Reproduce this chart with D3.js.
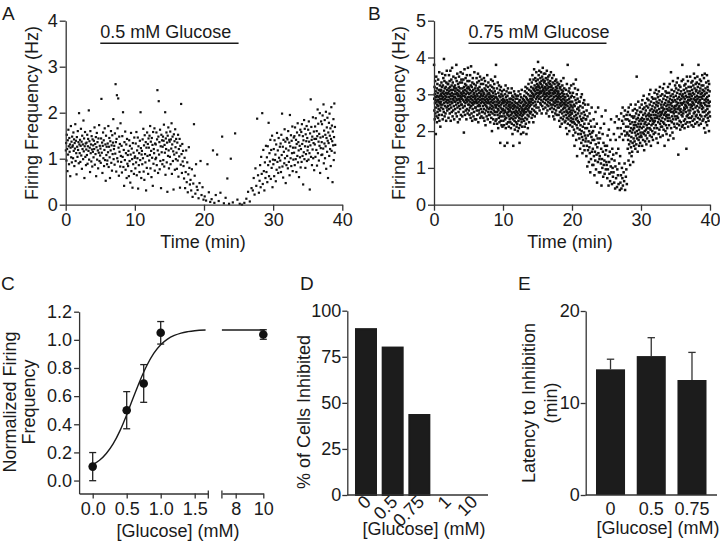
<!DOCTYPE html>
<html><head><meta charset="utf-8"><title>Glucose firing</title>
<script src="https://cdn.jsdelivr.net/npm/d3@7/dist/d3.min.js"></script>
<style>
html,body{margin:0;padding:0;background:#fff;}
svg{display:block;}
</style></head><body>
<svg id="fig" width="720" height="555"></svg>
<script>
// ---------------- DATA ----------------
// Panel A: firing-frequency samples per minute, in hundredths of Hz
const A_UNIT = 0.01;
const aMinutes = [
"118 134 96 152 121 73 140 109 163 127 88 145 115 131 62 124 171 103 137 92 148 126",
"129 101 157 117 142 84 134 122 175 95 139 112 66 147 126 104 160 119 136 90 199 131",
"112 141 93 128 165 107 137 78 150 121 131 99 183 116 144 58 127 158 104 133 86 120",
"135 108 152 89 127 143 117 205 98 138 124 71 160 112 131 94 149 120 83 142 115 129",
"103 139 121 168 87 132 110 147 62 125 156 98 136 118 79 144 113 173 95 128 107",
"122 91 144 230 113 135 69 128 157 101 140 84 119 166 97 131 52 150 108 126 88",
"96 133 114 171 82 126 145 103 58 138 118 160 91 129 74 151 110 135 186 99 121",
"128 87 155 111 262 136 72 143 238 101 166 94 231 124 63 148 115 132 83 177 106",
"93 128 70 149 104 201 82 119 41 136 97 159 76 112 131 58 143 89 108",
"84 117 62 140 95 128 48 109 156 73 122 99 37 134 88 113 67 146 102",
"105 79 133 92 158 64 118 101 146 35 127 86 112 71 139 97 201 123 58 109",
"117 88 142 101 165 72 129 54 151 110 92 136 31 124 80 157 106 132 67 144",
"124 96 150 108 171 79 137 117 60 145 102 130 41 158 89 121 112 166 74 133 99",
"131 102 157 86 142 249 118 69 148 225 109 136 77 163 95 127 36 152 114 140 88",
"126 148 97 139 174 83 130 113 201 65 144 121 157 92 135 28 150 106 168 118 79 141",
"137 104 159 88 142 122 177 67 131 148 95 116 33 153 109 138 76 164 125 99 143",
"113 78 135 96 152 61 121 105 143 37 128 87 219 110 69 132 94 117",
"84 57 102 36 71 118 49 92 27 66 125 80 44",
"54 31 77 17 46 175 63 24 88 39",
"32 14 47 95 21 38 11",
"18 9 88 27 6",
"12 118 4 21 109",
"8 26 148 3",
"15 57 2 100",
"5 155 11",
"2 0 4",
"13 28 7 36",
"31 58 22 79 41 187 64 26",
"52 86 38 104 67 199 45 119 73 31 92 58 128",
"71 103 49 127 86 178 62 112 94 141 56 119 80 150 38 98",
"88 121 62 140 97 109 51 131 76 156 93 118 69 145 102 81 126",
"96 133 71 152 108 198 83 126 59 141 115 90 164 101 137 47 122 86 145",
"106 142 79 160 118 93 135 64 195 127 101 151 84 139 112 170 73 124 98 146",
"113 149 86 168 124 99 141 71 132 157 106 177 92 136 118 60 151 128 103 163 81",
"121 158 93 175 132 106 149 44 140 114 184 99 165 127 80 153 110 138 171 95 145 118",
"126 163 98 181 137 112 33 155 129 229 104 169 141 86 148 120 190 101 134 159 75 143",
"131 170 104 188 143 119 160 85 149 207 112 176 137 96 154 128 199 69 146 123 181 108",
"136 175 109 194 148 122 218 90 161 133 184 101 152 127 202 78 145 168 115 189 139 58 157",
"134 178 106 198 150 121 166 84 143 212 117 172 138 49 159 129 186 97 147 220 113 169 130"
];
// Panel B: firing-frequency samples per minute, in steps of 0.04 Hz
const B_UNIT = 0.04;
const bMinutes = [
"95 72 64 80 58 75 69 84 62 71 77 48 66 73 87 60 70 79 56 74 68 82 63 76 71 59 85 67 73 65 78 61 70 90 57 74 69 81 64 72 53 77 68 75",
"70 78 66 83 74 61 80 72 89 68 76 58 81 73 65 86 71 77 63 99 75 69 84 60 79 72 67 88 74 62 80 70 76 57 83 73 66 91 71 78 64 75 69 82",
"76 67 82 71 59 79 73 88 65 77 70 84 62 75 80 68 91 72 57 78 74 66 85 70 81 63 76 93 69 74 60 83 72 78 64 87 71 75 67 80 58 73 79 70",
"73 81 65 77 70 86 62 75 79 68 95 72 84 60 76 71 89 66 78 74 56 82 69 75 63 80 72 87 67 77 71 58 83 74 65 79 70 90 73 61 76 68 85 72",
"75 68 83 72 60 79 74 89 66 77 71 85 63 76 49 80 70 74 92 67 78 61 82 73 69 86 64 75 71 81 58 77 72 88 65 79 70 84 62 76 93 73 68 80",
"71 79 64 75 68 84 61 73 78 66 88 70 76 59 81 72 94 67 74 62 80 69 77 57 83 71 65 86 73 68 78 60 75 70 82 63 76 90 69 74 58 79 72 66",
"73 66 81 70 58 77 71 86 64 75 69 83 61 74 79 67 89 72 56 78 70 64 84 68 76 62 80 73 67 87 71 59 77 74 65 82 69 75 60 85 72 78 63 70",
"70 77 63 74 67 82 59 72 76 65 86 69 75 57 79 71 62 84 68 73 54 78 70 64 81 67 74 60 77 72 66 88 69 75 58 80 71 63 83 70 65 76 61 73",
"69 75 61 78 66 72 56 81 68 74 63 85 70 59 77 65 73 50 80 67 71 62 84 69 76 58 74 66 79 64 72 55 82 70 61 77 68 87 63 73 57 75 67 95",
"66 73 58 70 63 79 55 68 72 61 83 65 71 52 76 64 69 59 81 67 74 56 70 62 78 60 42 73 66 57 80 68 63 75 54 71 65 77 60 69 53 74 64 70",
"65 72 57 69 62 78 54 67 71 60 40 64 75 58 70 63 81 52 68 73 59 66 77 55 71 62 69 42 74 61 65 79 56 70 63 67 53 76 60 68 64 72 58 66",
"64 70 56 68 61 76 52 66 72 59 63 79 55 69 62 74 48 67 71 58 65 40 73 60 68 54 77 63 66 57 70 51 75 62 67 59 72 64 56 69 61 74 53 66",
"63 69 55 72 60 66 50 74 62 68 57 77 64 52 70 59 65 42 71 61 67 54 75 63 58 69 48 73 62 66 56 78 60 64 53 70 65 58 72 61 67 49 68 63",
"64 71 57 74 62 68 53 77 65 70 59 80 66 55 73 63 69 48 76 67 72 58 79 65 61 71 52 75 68 64 82 60 70 66 56 78 69 63 74 67 85 62 72 70",
"70 77 63 80 68 74 59 83 72 76 65 88 71 61 79 69 75 56 85 73 78 64 92 74 67 81 60 77 70 86 63 79 75 68 84 72 90 66 80 76 62 82 73 78",
"78 85 70 97 74 81 66 88 76 80 72 91 75 64 83 77 79 69 86 73 82 68 90 76 71 84 62 80 77 87 67 81 74 93 70 78 85 65 79 75 89 72 83 76",
"77 84 69 80 73 89 66 79 75 86 71 82 62 78 74 91 68 81 76 64 85 72 79 70 87 67 83 75 80 60 77 73 88 69 82 76 65 84 71 78 74 90 68 80",
"74 81 66 78 71 86 63 76 72 83 68 79 60 75 70 88 65 77 73 58 82 69 76 67 84 62 78 71 74 80 64 85 70 77 61 79 72 68 83 75 66 81 73 76",
"70 77 61 74 66 82 57 72 68 79 63 75 53 80 69 73 59 84 67 71 64 78 55 76 70 62 81 68 74 58 77 65 72 86 60 75 69 66 79 63 71 56 73 68",
"66 73 57 70 61 78 52 68 64 75 59 82 63 48 71 67 95 55 74 62 69 58 77 65 60 72 50 79 66 63 70 54 76 61 68 57 73 64 81 59 67 62 74 56",
"62 70 53 66 58 76 47 64 82 56 68 51 73 60 40 67 55 79 63 49 71 58 85 61 44 69 54 75 59 33 65 52 72 57 78 62 48 66 56 70",
"56 64 45 70 51 60 38 67 54 48 73 58 42 62 50 75 46 57 35 66 53 44 69 59 40 63 49 71 55 37 61 47 68 52 43 58",
"45 58 33 64 40 52 26 60 47 37 68 43 55 29 50 39 62 35 48 22 57 42 31 53 46 66 36 49 27 44",
"38 50 27 58 33 44 20 53 36 30 63 41 24 47 34 55 15 39 45 29 66 35 42 22 49 31",
"33 45 22 52 28 38 13 60 31 25 48 36 19 42 27 55 30 21 40 34 64 24 37 29",
"27 40 18 47 24 33 13 51 29 21 36 16 44 26 58 22 31 14 38 25 19 34",
"22 48 15 30 56 11 26 44 18 35 60 12 24 52 20 38 14 58 28 46 10 33",
"15 52 20 62 11 48 25 57 18 66 13 44 55 22 60 16 50 28 64 10 47 58 19 53 24 61 14 49",
"48 58 38 63 44 53 30 66 47 41 57 35 61 50 27 55 43 68 39 52 46 33 60 49 36 56 42 64 51 29 59 45 54 40",
"52 60 43 65 49 56 38 68 54 47 62 41 58 87 50 45 64 53 36 59 48 70 55 44 61 51 40 57 46 66 53 42 63 49 58 47",
"55 63 46 68 52 59 40 71 57 49 65 44 61 53 74 48 58 37 66 55 50 62 43 69 56 47 64 51 60 41 67 54 58 45 72 52 61 49",
"58 66 49 71 55 62 43 75 60 52 68 47 64 57 78 51 61 40 70 59 54 65 46 73 58 50 67 55 63 44 72 57 61 48 69 56 64 52 76 59",
"57 66 49 72 61 54 78 63 68 45 70 59 64 52 75 60 67 42 73 56 62 69 48 77 58 65 51 71 60 80 55 63 46 74 61 53 68 57 66 62",
"63 70 53 75 59 66 47 79 64 56 72 51 68 61 82 55 65 40 74 62 58 69 50 77 63 54 71 60 67 48 76 61 65 52 73 59 68 57 80 64 44 70",
"61 70 54 76 66 59 82 64 72 47 68 57 74 63 90 52 69 65 78 56 71 60 67 49 75 63 84 58 70 45 73 62 66 55 77 64 53 71 60 81 67 65",
"67 74 58 79 63 70 52 83 68 60 76 55 72 65 86 59 69 34 78 66 62 73 54 81 67 57 75 64 71 51 80 65 69 56 77 63 72 61 84 68 53 74 95",
"60 75 54 69 85 62 73 64 78 57 70 66 81 52 72 65 76 58 68 82 55 74 63 67 79 38 70 60 87 66 73 56 77 61 69 84 53 71 64 80 59 75 68 71",
"73 62 77 56 71 87 64 75 66 80 59 72 68 83 54 74 67 78 60 70 84 57 76 65 69 81 53 72 62 89 68 75 58 79 63 71 86 55 73 66 82 60 77 70",
"71 78 61 83 67 74 56 87 72 64 80 59 76 69 95 63 73 54 82 70 66 77 58 85 71 61 79 68 75 55 84 69 73 60 81 67 76 65 88 72 57 78 63 74",
"66 81 58 74 69 86 52 77 63 71 89 60 75 68 49 79 64 72 56 83 70 61 76 67 88 54 73 65 80 59 71 78 62 84 57 69 74 50 82 67 63 77 70 60"
];
const timeTicks = [0, 10, 20, 30, 40];
const aYTicks = [0, 1, 2, 3, 4];
const bYTicks = [0, 1, 2, 3, 4, 5];
const aGlucose = [5, 25];
const bGlucose = [5, 25];
const aTitle = "0.5 mM Glucose";
const bTitle = "0.75 mM Glucose";

const cConc = [0, 0.5, 0.75, 1.0, 10];
const cMean = [0.099, 0.50, 0.69, 1.05, 1.038];
const cSem  = [0.10, 0.132, 0.134, 0.08, 0.034];
const cFitX = [0, 0.1, 0.2, 0.3, 0.4, 0.5, 0.6, 0.7, 0.8, 0.9, 1.0, 1.1, 1.2, 1.3, 1.4, 1.5, 1.66];
const cFitY = [0.113, 0.144, 0.192, 0.26, 0.353, 0.468, 0.593, 0.715, 0.821, 0.905, 0.965, 1.005, 1.031, 1.048, 1.058, 1.065, 1.07];
const cPlateauX = [7, 10.12];
const cPlateauY = [1.07, 1.07];
const cYTicks = [0, 0.2, 0.4, 0.6, 0.8, 1.0, 1.2];
const cXTicksLeft = [0, 0.5, 1.0, 1.5];
const cXTicksRight = [8, 10];

const dCats = ["0", "0.5", "0.75", "1", "10"];
const dVals = [90, 80, 43.4, 0, 0];
const dYTicks = [0, 25, 50, 75, 100];

const eCats = ["0", "0.5", "0.75"];
const eVals = [13.66, 15.1, 12.5];
const eErr  = [1.1, 2.0, 3.0];
const eYTicks = [0, 10, 20];

// ---------------- DRAW ----------------
const FF = '"Liberation Sans", Arial, Helvetica, sans-serif';
const INK = "#1a1a1a", AX = "#333";
const svg = d3.select("#fig");
svg.append("rect").attr("width", 720).attr("height", 555).attr("fill", "#fff");

function axStyle(g) {
  g.attr("font-family", FF).attr("font-size", 18);
  g.selectAll(".domain").attr("stroke", AX).attr("stroke-width", 1.3);
  g.selectAll(".tick line").attr("stroke", AX).attr("stroke-width", 1.3);
  g.selectAll(".tick text").attr("fill", INK);
}
function label(x, y, s, opt = {}) {
  const t = svg.append("text").attr("font-family", FF).attr("font-size", opt.size || 18)
    .attr("fill", INK).attr("text-anchor", opt.anchor || "start").text(s);
  if (opt.rot) t.attr("transform", `translate(${x},${y}) rotate(${opt.rot})`);
  else t.attr("x", x).attr("y", y);
  return t;
}

function scatterPanel(minutes, unit, xr, ymax, yTicks, size, glu, title, ylabX, xlabX) {
  const x = d3.scaleLinear().domain([0, 40]).range(xr);
  const y = d3.scaleLinear().domain([0, ymax]).range([204.7, 20.7]);
  const pts = [];
  minutes.forEach((s, m) => {
    const v = s.trim().split(/\s+/).map(Number);
    v.forEach((c, i) => pts.push([m + (i + 0.5) / v.length, c * unit]));
  });
  svg.append("g").selectAll("rect").data(pts).join("rect")
    .attr("x", d => x(d[0]) - size / 2).attr("y", d => y(d[1]) - size / 2)
    .attr("width", size).attr("height", size).attr("fill", "#111");
  svg.append("g").attr("transform", `translate(0,${y(0)})`)
    .call(d3.axisBottom(x).tickValues(timeTicks).tickFormat(d3.format("d")).tickSize(6).tickPadding(3).tickSizeOuter(0)).call(axStyle);
  svg.append("g").attr("transform", `translate(${x(0)},0)`)
    .call(d3.axisLeft(y).tickValues(yTicks).tickFormat(d3.format("d")).tickSize(6).tickPadding(2).tickSizeOuter(0)).call(axStyle);
  svg.append("line").attr("x1", x(glu[0])).attr("x2", x(glu[1])).attr("y1", 43.3).attr("y2", 43.3)
    .attr("stroke", INK).attr("stroke-width", 1.5);
  label(x(glu[0]), 38, title);
  label(ylabX, 113, "Firing Frequency (Hz)", { anchor: "middle", rot: -90 });
  label(xlabX, 248, "Time (min)", { anchor: "middle" });
}

// Panel A
scatterPanel(aMinutes, A_UNIT, [65.7, 342.3], 4, aYTicks, 2.2, aGlucose, aTitle, 38, 203);
label(2, 20, "A", { size: 19 });
// Panel B
scatterPanel(bMinutes, B_UNIT, [434, 710], 5, bYTicks, 2.5, bGlucose, bTitle, 405, 570);
label(368, 20, "B", { size: 19 });

// Panel C
{
  const xL = d3.scaleLinear().domain([-0.2, 1.7]).range([79.1, 208.3]);
  const xR = d3.scaleLinear().domain([7, 10]).range([221.9, 263.3]);
  const y = d3.scaleLinear().domain([-0.092, 1.2]).range([493.5, 311.7]);
  const xa = c => c > 5 ? xR(c) : xL(c);
  svg.append("g").attr("transform", `translate(${xL(-0.2)},0)`)
    .call(d3.axisLeft(y).tickValues(cYTicks).tickFormat(d3.format(".1f")).tickSize(5).tickPadding(2).tickSizeOuter(0)).call(axStyle);
  svg.append("g").attr("transform", `translate(0,${y(-0.092)})`)
    .call(d3.axisBottom(xL).tickValues(cXTicksLeft).tickFormat(d3.format(".1f")).tickSize(5).tickPadding(4).tickSizeOuter(0)).call(axStyle);
  svg.append("g").attr("transform", `translate(0,${y(-0.092)})`)
    .call(d3.axisBottom(xR).tickValues(cXTicksRight).tickFormat(d3.format("d")).tickSize(5).tickPadding(4).tickSizeOuter(0)).call(axStyle);
  [xL(1.7), xR(7)].forEach(bx => svg.append("line").attr("x1", bx).attr("x2", bx)
    .attr("y1", y(-0.092) - 3).attr("y2", y(-0.092) + 5).attr("stroke", AX).attr("stroke-width", 1.3));
  const line = d3.line().x(d => xL(d[0])).y(d => y(d[1])).curve(d3.curveMonotoneX);
  svg.append("path").attr("d", line(cFitX.map((v, i) => [v, cFitY[i]]))).attr("fill", "none")
    .attr("stroke", INK).attr("stroke-width", 1.4);
  svg.append("path").attr("d", d3.line().x(d => xR(d[0])).y(d => y(d[1]))(cPlateauX.map((v, i) => [v, cPlateauY[i]])))
    .attr("fill", "none").attr("stroke", INK).attr("stroke-width", 1.4);
  const eb = svg.append("g").attr("stroke", "#222").attr("stroke-width", 1.3);
  cConc.forEach((c, i) => {
    const cx = xa(c), lo = y(cMean[i] - cSem[i]), hi = y(cMean[i] + cSem[i]);
    eb.append("line").attr("x1", cx).attr("x2", cx).attr("y1", lo).attr("y2", hi);
    eb.append("line").attr("x1", cx - 3.5).attr("x2", cx + 3.5).attr("y1", lo).attr("y2", lo);
    eb.append("line").attr("x1", cx - 3.5).attr("x2", cx + 3.5).attr("y1", hi).attr("y2", hi);
  });
  svg.append("g").selectAll("circle").data(cConc).join("circle")
    .attr("cx", d => xa(d)).attr("cy", (d, i) => y(cMean[i])).attr("r", 4.3).attr("fill", "#111");
  label(16, 402, "Normalized Firing", { anchor: "middle", rot: -90 });
  label(35, 402, "Frequency", { anchor: "middle", rot: -90 });
  label(178, 537, "[Glucose] (mM)", { anchor: "middle" });
  label(1, 290, "C", { size: 19 });
}

// Panel D
{
  const x = d3.scaleBand().domain(dCats).range([352.66, 486.04]).paddingInner(0.25).paddingOuter(0.125);
  const y = d3.scaleLinear().domain([0, 100]).range([495, 310.7]);
  svg.append("g").selectAll("rect").data(dCats).join("rect")
    .attr("x", d => x(d)).attr("width", x.bandwidth())
    .attr("y", (d, i) => y(dVals[i])).attr("height", (d, i) => y(0) - y(dVals[i]))
    .attr("fill", "#1c1c1c").attr("stroke", "#1c1c1c").attr("stroke-width", 2);
  svg.append("g").attr("transform", `translate(347.3,0)`)
    .call(d3.axisLeft(y).tickValues(dYTicks).tickSize(5).tickPadding(1).tickSizeOuter(0)).call(axStyle);
  svg.append("line").attr("x1", 347.3).attr("x2", 488).attr("y1", y(0)).attr("y2", y(0))
    .attr("stroke", AX).attr("stroke-width", 1.3);
  dCats.forEach(c => label(x(c) + x.bandwidth() / 2 + 6, 503, c, { anchor: "end", rot: -45 }));
  label(310, 412, "% of Cells Inhibited", { anchor: "middle", rot: -90 });
  label(424, 535, "[Glucose] (mM)", { anchor: "middle" });
  label(300, 290, "D", { size: 19 });
}

// Panel E
{
  const x = d3.scaleBand().domain(eCats).range([590.15, 712.35]).paddingInner(0.287).paddingOuter(0.1435);
  const y = d3.scaleLinear().domain([0, 20]).range([495, 311]);
  const cx = d => x(d) + x.bandwidth() / 2;
  const eb = svg.append("g").attr("stroke", "#333").attr("stroke-width", 1.3);
  eCats.forEach((c, i) => {
    eb.append("line").attr("x1", cx(c)).attr("x2", cx(c)).attr("y1", y(eVals[i])).attr("y2", y(eVals[i] + eErr[i]));
    eb.append("line").attr("x1", cx(c) - 3.7).attr("x2", cx(c) + 3.7).attr("y1", y(eVals[i] + eErr[i])).attr("y2", y(eVals[i] + eErr[i]));
  });
  svg.append("g").selectAll("rect").data(eCats).join("rect")
    .attr("x", d => x(d)).attr("width", x.bandwidth())
    .attr("y", (d, i) => y(eVals[i])).attr("height", (d, i) => y(0) - y(eVals[i]))
    .attr("fill", "#1c1c1c");
  svg.append("g").attr("transform", `translate(585.7,0)`)
    .call(d3.axisLeft(y).tickValues(eYTicks).tickSize(5).tickPadding(1).tickSizeOuter(0)).call(axStyle);
  svg.append("line").attr("x1", 585.7).attr("x2", 717).attr("y1", y(0)).attr("y2", y(0))
    .attr("stroke", AX).attr("stroke-width", 1.3);
  eCats.forEach(c => label(cx(c), 515, c, { anchor: "middle" }));
  label(535, 403, "Latency to Inhibition", { anchor: "middle", rot: -90 });
  label(557, 403, "(min)", { anchor: "middle", rot: -90 });
  label(658, 534, "[Glucose] (mM)", { anchor: "middle" });
  label(518, 290, "E", { size: 19 });
}
</script>
</body></html>
